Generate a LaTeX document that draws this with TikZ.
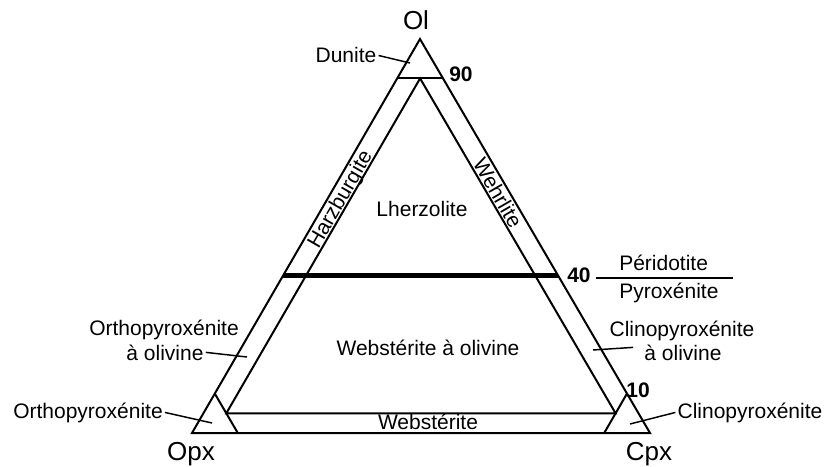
\documentclass[tikz,border=0pt]{standalone}
\usepackage{fontspec}
\setmainfont{Liberation Sans}

\tikzset{
  corner/.style={font=\fontsize{19.5}{22}\selectfont, inner sep=0pt},
  lbl/.style={font=\fontsize{15.75}{18.75}\selectfont, inner sep=1.5pt},
  num/.style={font=\fontsize{15.75}{18.75}\selectfont\bfseries, inner sep=0pt},
  field/.style={line width=1.5pt},
  leader/.style={line width=1.1pt},
}

\begin{document}
\begin{tikzpicture}[x=0.75pt,y=-0.75pt]
      \useasboundingbox (0,0) rectangle (826,467);
      \coordinate (Ol) at (420,39);
      \coordinate (Opx) at (192,433);
      \coordinate (Cpx) at (650,433);

      % poles
      \node[corner, anchor=base] (ol) at (416,30) {Ol};
      \node[corner, anchor=base] (opx) at (191,460) {Opx};
      \node[corner, anchor=base] (cpx) at (649,460) {Cpx};

      % fields
      \draw[field] (Ol) -- (Opx) -- (Cpx) -- cycle;
      \draw[field] (barycentric cs:Ol=0.9,Opx=0.1) -- (barycentric cs:Ol=0.9,Cpx=0.1);
      \draw[field] (barycentric cs:Opx=0.9,Ol=0.1) -- (barycentric cs:Opx=0.9,Cpx=0.1);
      \draw[field] (barycentric cs:Cpx=0.9,Ol=0.1) -- (barycentric cs:Cpx=0.9,Opx=0.1);
      \draw[field] (barycentric cs:Ol=0.9,Opx=0.05,Cpx=0.05)
        -- (barycentric cs:Ol=0.05,Opx=0.9,Cpx=0.05)
        -- (barycentric cs:Ol=0.05,Opx=0.05,Cpx=0.9) -- cycle;
      \draw[line width=3.2pt] (barycentric cs:Ol=0.4,Opx=0.6) -- (barycentric cs:Ol=0.4,Cpx=0.6);

      % values
      \node[num, anchor=base] (n90) at (461,82) {90};
      \node[num, anchor=base] (n40) at (579,282) {40};
      \node[num, anchor=base] (n10) at (638,397) {10};

      % names inside
      \node[lbl, anchor=base] (lherz) at (422,217) {Lherzolite};
      \node[lbl, anchor=base] (websol) at (428,355) {Webstérite à olivine};
      \node[lbl, anchor=base] (webs) at (428,429) {Webstérite};
      \node[lbl, rotate=60] (harz) at (341,200) {Harzburgite};
      \node[lbl, rotate=-60] (wehr) at (498,193) {Wehrlite};

      % peridotite / pyroxenite
      \node[lbl, anchor=base west] (perid) at (617,270) {Péridotite};
      \node[lbl, anchor=base west] (pyrox) at (617,298) {Pyroxénite};
      \coordinate (divl) at (596,278);
      \coordinate (divr) at (733,278);
      \draw[leader] (divl) -- (divr);

      % names outside
      \node[lbl, anchor=base] (dunite) at (346,63) {Dunite};
      \node[lbl, anchor=base] (opxol1) at (164,335) {Orthopyroxénite};
      \node[lbl, anchor=base] (opxol2) at (165,360) {à olivine};
      \node[lbl, anchor=base] (orthopx) at (88,418) {Orthopyroxénite};
      \node[lbl, anchor=base] (cpxol1) at (682,336) {Clinopyroxénite};
      \node[lbl, anchor=base] (cpxol2) at (683,360) {à olivine};
      \node[lbl, anchor=base] (clinopx) at (750,418) {Clinopyroxénite};

      \coordinate (duniteend) at (410,63);
      \coordinate (opxolend) at (247,357);
      \coordinate (orthopxend) at (212,423);
      \coordinate (cpxolend) at (593,350);
      \coordinate (clinopxend) at (630,424);
      \begin{scope}[leader]
        \draw (dunite.east) -- (duniteend);
        \draw (opxol2.east) -- (opxolend);
        \draw (orthopx.east) -- (orthopxend);
        \draw ([shift={(-9,-5)}]cpxol2.west) -- (cpxolend);
        \draw (clinopx.west) -- (clinopxend);
      \end{scope}
    \end{tikzpicture}
\end{document}
